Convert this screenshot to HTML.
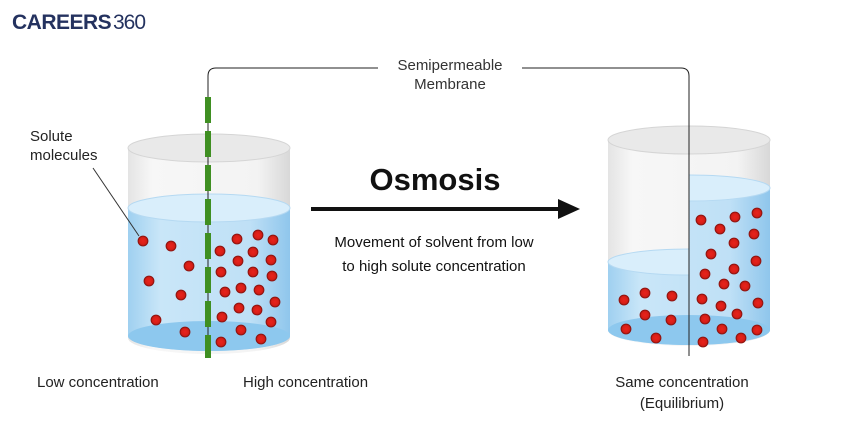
<!DOCTYPE html>
<html><head><meta charset="utf-8"><style>
html,body{margin:0;padding:0;background:#fff;}
svg{display:block;font-family:"Liberation Sans",sans-serif;}
</style></head><body>
<svg width="860" height="430" viewBox="0 0 860 430" xmlns="http://www.w3.org/2000/svg">
<defs>
<linearGradient id="glass" x1="0" x2="1" y1="0" y2="0">
<stop offset="0" stop-color="#e4e4e4"/><stop offset="0.15" stop-color="#f7f7f7"/><stop offset="0.8" stop-color="#f3f3f3"/><stop offset="1" stop-color="#d8d8d8"/></linearGradient>
<linearGradient id="water" x1="0" x2="1" y1="0" y2="0">
<stop offset="0" stop-color="#9fd0f0"/><stop offset="0.2" stop-color="#c9e6f8"/><stop offset="0.75" stop-color="#bfe0f6"/><stop offset="1" stop-color="#8fc6ec"/></linearGradient>
<radialGradient id="dot"><stop offset="0" stop-color="#e8231c"/><stop offset="0.7" stop-color="#d81e16"/><stop offset="1" stop-color="#9a1410"/></radialGradient>
<clipPath id="cl"><rect x="600" y="0" width="89" height="430"/></clipPath>
<clipPath id="cr"><rect x="689" y="0" width="90" height="430"/></clipPath>
</defs>
<text x="12" y="29" font-size="21" font-weight="bold" fill="#24325f" letter-spacing="-0.5">CAREERS</text>
<text x="113" y="29" font-size="21" fill="#24325f" letter-spacing="-1">360</text>

<!-- left beaker -->
<path d="M128 148 L128 338 A81 16 0 0 0 290 338 L290 148 Z" fill="url(#glass)"/>
<path d="M128 208 L128 336 A81 15 0 0 0 290 336 L290 208 Z" fill="url(#water)"/>
<path d="M128 336 A81 15 0 0 1 290 336 A81 15 0 0 1 128 336 Z" fill="#8dc8ee"/>
<ellipse cx="209" cy="208" rx="81" ry="14" fill="#d9eefb" stroke="#b5d9f2"/>
<ellipse cx="209" cy="148" rx="81" ry="14" fill="#e9e9e9" stroke="#d5d5d5"/>

<!-- right beaker -->
<path d="M608 140 L608 330 A81 16 0 0 0 770 330 L770 140 Z" fill="url(#glass)"/>
<g clip-path="url(#cl)">
<path d="M608 262 L608 330 A81 15 0 0 0 770 330 L770 262 Z" fill="url(#water)"/>
<ellipse cx="689" cy="330" rx="81" ry="15" fill="#8dc8ee"/>
<ellipse cx="689" cy="262" rx="81" ry="13" fill="#d9eefb" stroke="#b5d9f2"/>
</g>
<g clip-path="url(#cr)">
<path d="M608 188 L608 330 A81 15 0 0 0 770 330 L770 188 Z" fill="url(#water)"/>
<ellipse cx="689" cy="330" rx="81" ry="15" fill="#8dc8ee"/>
<ellipse cx="689" cy="188" rx="81" ry="13" fill="#d9eefb" stroke="#b5d9f2"/>
</g>
<ellipse cx="689" cy="140" rx="81" ry="14" fill="#e9e9e9" stroke="#d5d5d5"/>

<!-- connector -->
<path d="M208 98 L208 76 Q208 68 216 68 L378 68" fill="none" stroke="#222" stroke-width="1"/>
<path d="M522 68 L681 68 Q689 68 689 76 L689 356" fill="none" stroke="#222" stroke-width="1"/>
<line x1="208" y1="98" x2="208" y2="358" stroke="#222" stroke-width="1"/>
<line x1="208" y1="97" x2="208" y2="358" stroke="#3f8f22" stroke-width="6" stroke-dasharray="26 8"/>

<text x="450" y="70" font-size="15" fill="#333" text-anchor="middle">Semipermeable</text>
<text x="450" y="89" font-size="15" fill="#333" text-anchor="middle">Membrane</text>

<text x="435" y="190" font-size="31" font-weight="bold" fill="#111" text-anchor="middle">Osmosis</text>
<line x1="311" y1="209" x2="562" y2="209" stroke="#111" stroke-width="4"/>
<polygon points="558,199 580,209 558,219" fill="#111"/>
<text x="434" y="247" font-size="15" fill="#111" text-anchor="middle">Movement of solvent from low</text>
<text x="434" y="271" font-size="15" fill="#111" text-anchor="middle">to high solute concentration</text>

<text x="30" y="141" font-size="15" fill="#222">Solute</text>
<text x="30" y="160" font-size="15" fill="#222">molecules</text>
<line x1="93" y1="168" x2="139" y2="236" stroke="#333" stroke-width="1"/>

<text x="37" y="387" font-size="15" fill="#222">Low concentration</text>
<text x="243" y="387" font-size="15" fill="#222">High concentration</text>
<text x="682" y="387" font-size="15" fill="#222" text-anchor="middle">Same concentration</text>
<text x="682" y="408" font-size="15" fill="#222" text-anchor="middle">(Equilibrium)</text>

<g fill="url(#dot)" stroke="#8a120e" stroke-width="0.8">
<circle cx="143" cy="241" r="5"/><circle cx="171" cy="246" r="5"/><circle cx="189" cy="266" r="5"/><circle cx="149" cy="281" r="5"/><circle cx="181" cy="295" r="5"/><circle cx="156" cy="320" r="5"/><circle cx="185" cy="332" r="5"/>
<circle cx="237" cy="239" r="5"/><circle cx="258" cy="235" r="5"/><circle cx="273" cy="240" r="5"/><circle cx="220" cy="251" r="5"/><circle cx="253" cy="252" r="5"/><circle cx="238" cy="261" r="5"/><circle cx="271" cy="260" r="5"/><circle cx="221" cy="272" r="5"/><circle cx="253" cy="272" r="5"/><circle cx="272" cy="276" r="5"/><circle cx="225" cy="292" r="5"/><circle cx="241" cy="288" r="5"/><circle cx="259" cy="290" r="5"/><circle cx="275" cy="302" r="5"/><circle cx="239" cy="308" r="5"/><circle cx="257" cy="310" r="5"/><circle cx="222" cy="317" r="5"/><circle cx="271" cy="322" r="5"/><circle cx="241" cy="330" r="5"/><circle cx="221" cy="342" r="5"/><circle cx="261" cy="339" r="5"/>
<circle cx="624" cy="300" r="5"/><circle cx="645" cy="293" r="5"/><circle cx="672" cy="296" r="5"/><circle cx="645" cy="315" r="5"/><circle cx="671" cy="320" r="5"/><circle cx="626" cy="329" r="5"/><circle cx="656" cy="338" r="5"/>
<circle cx="701" cy="220" r="5"/><circle cx="735" cy="217" r="5"/><circle cx="757" cy="213" r="5"/><circle cx="720" cy="229" r="5"/><circle cx="754" cy="234" r="5"/><circle cx="734" cy="243" r="5"/><circle cx="711" cy="254" r="5"/><circle cx="756" cy="261" r="5"/><circle cx="734" cy="269" r="5"/><circle cx="705" cy="274" r="5"/><circle cx="724" cy="284" r="5"/><circle cx="745" cy="286" r="5"/><circle cx="702" cy="299" r="5"/><circle cx="721" cy="306" r="5"/><circle cx="758" cy="303" r="5"/><circle cx="737" cy="314" r="5"/><circle cx="705" cy="319" r="5"/><circle cx="722" cy="329" r="5"/><circle cx="757" cy="330" r="5"/><circle cx="703" cy="342" r="5"/><circle cx="741" cy="338" r="5"/>
</g>
</svg>
</body></html>
